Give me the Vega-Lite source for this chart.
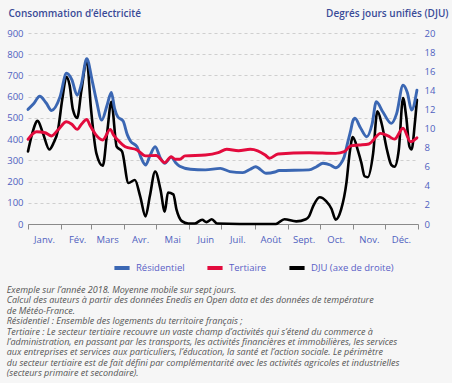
{
  "$schema": "https://vega.github.io/schema/vega-lite/v6.json",
  "width": 390,
  "height": 191,
  "autosize": {"type": "none"},
  "padding": {"left": 28, "top": 33, "right": 34, "bottom": 159},
  "background": "#f6f6f6",
  "config": {
    "view": {"stroke": null},
    "font": "Open Sans",
    "axis": {"labelFont": "Open Sans", "titleFont": "Open Sans"},
    "title": {"font": "Open Sans"}
  },
  "title": {
    "text": [
      "Exemple sur l’année 2018. Moyenne mobile sur sept jours.",
      "Calcul des auteurs à partir des données Enedis en Open data et des données de température",
      "de Météo-France.",
      "Résidentiel : Ensemble des logements du territoire français ;",
      "Tertiaire : Le secteur tertiaire recouvre un vaste champ d’activités qui s’étend du commerce à",
      "l’administration, en passant par les transports, les activités financières et immobilières, les services",
      "aux entreprises et services aux particuliers, l’éducation, la santé et l’action sociale. Le périmètre",
      "du secteur tertiaire est de fait défini par complémentarité avec les activités agricoles et industrielles",
      "(secteurs primaire et secondaire)."
    ],
    "orient": "bottom",
    "anchor": "start",
    "frame": "bounds",
    "fontSize": 9,
    "fontStyle": "italic",
    "fontWeight": "normal",
    "color": "#555555",
    "lineHeight": 10.4,
    "offset": 10
  },
  "data": {
    "values": [
      {"date": "2018-01-01T00:00", "serie": "Résidentiel", "valeur": 540},
      {"date": "2018-01-06T00:00", "serie": "Résidentiel", "valeur": 565},
      {"date": "2018-01-12T00:00", "serie": "Résidentiel", "valeur": 602},
      {"date": "2018-01-18T00:00", "serie": "Résidentiel", "valeur": 570},
      {"date": "2018-01-23T00:00", "serie": "Résidentiel", "valeur": 535},
      {"date": "2018-01-31T00:00", "serie": "Résidentiel", "valeur": 600},
      {"date": "2018-02-06T00:00", "serie": "Résidentiel", "valeur": 710},
      {"date": "2018-02-11T00:00", "serie": "Résidentiel", "valeur": 680},
      {"date": "2018-02-16T00:00", "serie": "Résidentiel", "valeur": 607},
      {"date": "2018-02-20T00:00", "serie": "Résidentiel", "valeur": 660},
      {"date": "2018-02-25T00:00", "serie": "Résidentiel", "valeur": 779},
      {"date": "2018-03-02T00:00", "serie": "Résidentiel", "valeur": 677},
      {"date": "2018-03-06T00:00", "serie": "Résidentiel", "valeur": 583},
      {"date": "2018-03-11T00:00", "serie": "Résidentiel", "valeur": 490},
      {"date": "2018-03-16T00:00", "serie": "Résidentiel", "valeur": 560},
      {"date": "2018-03-20T00:00", "serie": "Résidentiel", "valeur": 620},
      {"date": "2018-03-23T00:00", "serie": "Résidentiel", "valeur": 545},
      {"date": "2018-03-26T00:00", "serie": "Résidentiel", "valeur": 505},
      {"date": "2018-03-31T00:00", "serie": "Résidentiel", "valeur": 485},
      {"date": "2018-04-04T00:00", "serie": "Résidentiel", "valeur": 420},
      {"date": "2018-04-07T00:00", "serie": "Résidentiel", "valeur": 390},
      {"date": "2018-04-13T00:00", "serie": "Résidentiel", "valeur": 364},
      {"date": "2018-04-17T00:00", "serie": "Résidentiel", "valeur": 310},
      {"date": "2018-04-21T00:00", "serie": "Résidentiel", "valeur": 278},
      {"date": "2018-04-25T00:00", "serie": "Résidentiel", "valeur": 320},
      {"date": "2018-04-30T00:00", "serie": "Résidentiel", "valeur": 364},
      {"date": "2018-05-05T00:00", "serie": "Résidentiel", "valeur": 310},
      {"date": "2018-05-09T00:00", "serie": "Résidentiel", "valeur": 286},
      {"date": "2018-05-15T00:00", "serie": "Résidentiel", "valeur": 315},
      {"date": "2018-05-19T00:00", "serie": "Résidentiel", "valeur": 290},
      {"date": "2018-05-23T00:00", "serie": "Résidentiel", "valeur": 272},
      {"date": "2018-06-02T00:00", "serie": "Résidentiel", "valeur": 258},
      {"date": "2018-06-16T00:00", "serie": "Résidentiel", "valeur": 255},
      {"date": "2018-06-30T00:00", "serie": "Résidentiel", "valeur": 262},
      {"date": "2018-07-09T00:00", "serie": "Résidentiel", "valeur": 247},
      {"date": "2018-07-21T00:00", "serie": "Résidentiel", "valeur": 242},
      {"date": "2018-07-28T00:00", "serie": "Résidentiel", "valeur": 258},
      {"date": "2018-08-02T00:00", "serie": "Résidentiel", "valeur": 270},
      {"date": "2018-08-12T00:00", "serie": "Résidentiel", "valeur": 239},
      {"date": "2018-08-20T00:00", "serie": "Résidentiel", "valeur": 245},
      {"date": "2018-08-24T00:00", "serie": "Résidentiel", "valeur": 252},
      {"date": "2018-09-21T00:00", "serie": "Résidentiel", "valeur": 255},
      {"date": "2018-09-28T00:00", "serie": "Résidentiel", "valeur": 270},
      {"date": "2018-10-04T00:00", "serie": "Résidentiel", "valeur": 286},
      {"date": "2018-10-11T00:00", "serie": "Résidentiel", "valeur": 278},
      {"date": "2018-10-16T00:00", "serie": "Résidentiel", "valeur": 265},
      {"date": "2018-10-20T00:00", "serie": "Résidentiel", "valeur": 280},
      {"date": "2018-10-24T00:00", "serie": "Résidentiel", "valeur": 317},
      {"date": "2018-10-27T00:00", "serie": "Résidentiel", "valeur": 380},
      {"date": "2018-10-30T00:00", "serie": "Résidentiel", "valeur": 440},
      {"date": "2018-11-01T00:00", "serie": "Résidentiel", "valeur": 485},
      {"date": "2018-11-03T00:00", "serie": "Résidentiel", "valeur": 498},
      {"date": "2018-11-08T00:00", "serie": "Résidentiel", "valeur": 455},
      {"date": "2018-11-14T00:00", "serie": "Résidentiel", "valeur": 411},
      {"date": "2018-11-19T00:00", "serie": "Résidentiel", "valeur": 470},
      {"date": "2018-11-23T00:00", "serie": "Résidentiel", "valeur": 576},
      {"date": "2018-11-29T00:00", "serie": "Résidentiel", "valeur": 529},
      {"date": "2018-12-07T00:00", "serie": "Résidentiel", "valeur": 474},
      {"date": "2018-12-12T00:00", "serie": "Résidentiel", "valeur": 520},
      {"date": "2018-12-18T00:00", "serie": "Résidentiel", "valeur": 654},
      {"date": "2018-12-22T00:00", "serie": "Résidentiel", "valeur": 620},
      {"date": "2018-12-26T00:00", "serie": "Résidentiel", "valeur": 537},
      {"date": "2018-12-31T00:00", "serie": "Résidentiel", "valeur": 630},

      {"date": "2018-01-01T00:00", "serie": "Tertiaire", "valeur": 399},
      {"date": "2018-01-09T00:00", "serie": "Tertiaire", "valeur": 435},
      {"date": "2018-01-17T00:00", "serie": "Tertiaire", "valeur": 430},
      {"date": "2018-01-23T00:00", "serie": "Tertiaire", "valeur": 415},
      {"date": "2018-01-29T00:00", "serie": "Tertiaire", "valeur": 443},
      {"date": "2018-02-06T00:00", "serie": "Tertiaire", "valeur": 482},
      {"date": "2018-02-11T00:00", "serie": "Tertiaire", "valeur": 470},
      {"date": "2018-02-16T00:00", "serie": "Tertiaire", "valeur": 446},
      {"date": "2018-02-20T00:00", "serie": "Tertiaire", "valeur": 470},
      {"date": "2018-02-25T00:00", "serie": "Tertiaire", "valeur": 493},
      {"date": "2018-02-28T00:00", "serie": "Tertiaire", "valeur": 465},
      {"date": "2018-03-05T00:00", "serie": "Tertiaire", "valeur": 424},
      {"date": "2018-03-12T00:00", "serie": "Tertiaire", "valeur": 396},
      {"date": "2018-03-19T00:00", "serie": "Tertiaire", "valeur": 446},
      {"date": "2018-03-22T00:00", "serie": "Tertiaire", "valeur": 420},
      {"date": "2018-03-26T00:00", "serie": "Tertiaire", "valeur": 396},
      {"date": "2018-04-02T00:00", "serie": "Tertiaire", "valeur": 364},
      {"date": "2018-04-13T00:00", "serie": "Tertiaire", "valeur": 349},
      {"date": "2018-04-21T00:00", "serie": "Tertiaire", "valeur": 321},
      {"date": "2018-05-01T00:00", "serie": "Tertiaire", "valeur": 323},
      {"date": "2018-05-09T00:00", "serie": "Tertiaire", "valeur": 289},
      {"date": "2018-05-15T00:00", "serie": "Tertiaire", "valeur": 317},
      {"date": "2018-05-19T00:00", "serie": "Tertiaire", "valeur": 305},
      {"date": "2018-05-23T00:00", "serie": "Tertiaire", "valeur": 305},
      {"date": "2018-05-28T00:00", "serie": "Tertiaire", "valeur": 321},
      {"date": "2018-06-16T00:00", "serie": "Tertiaire", "valeur": 325},
      {"date": "2018-06-28T00:00", "serie": "Tertiaire", "valeur": 336},
      {"date": "2018-07-06T00:00", "serie": "Tertiaire", "valeur": 352},
      {"date": "2018-07-17T00:00", "serie": "Tertiaire", "valeur": 345},
      {"date": "2018-07-28T00:00", "serie": "Tertiaire", "valeur": 352},
      {"date": "2018-08-04T00:00", "serie": "Tertiaire", "valeur": 345},
      {"date": "2018-08-11T00:00", "serie": "Tertiaire", "valeur": 325},
      {"date": "2018-08-15T00:00", "serie": "Tertiaire", "valeur": 310},
      {"date": "2018-08-23T00:00", "serie": "Tertiaire", "valeur": 330},
      {"date": "2018-09-21T00:00", "serie": "Tertiaire", "valeur": 336},
      {"date": "2018-10-16T00:00", "serie": "Tertiaire", "valeur": 333},
      {"date": "2018-10-24T00:00", "serie": "Tertiaire", "valeur": 341},
      {"date": "2018-10-30T00:00", "serie": "Tertiaire", "valeur": 368},
      {"date": "2018-11-07T00:00", "serie": "Tertiaire", "valeur": 372},
      {"date": "2018-11-16T00:00", "serie": "Tertiaire", "valeur": 377},
      {"date": "2018-11-27T00:00", "serie": "Tertiaire", "valeur": 427},
      {"date": "2018-12-04T00:00", "serie": "Tertiaire", "valeur": 415},
      {"date": "2018-12-10T00:00", "serie": "Tertiaire", "valeur": 400},
      {"date": "2018-12-18T00:00", "serie": "Tertiaire", "valeur": 451},
      {"date": "2018-12-25T00:00", "serie": "Tertiaire", "valeur": 388},
      {"date": "2018-12-31T00:00", "serie": "Tertiaire", "valeur": 406},

      {"date": "2018-01-01T00:00", "serie": "DJU (axe de droite)", "valeur": 7.6},
      {"date": "2018-01-05T00:00", "serie": "DJU (axe de droite)", "valeur": 9.5},
      {"date": "2018-01-10T00:00", "serie": "DJU (axe de droite)", "valeur": 10.8},
      {"date": "2018-01-15T00:00", "serie": "DJU (axe de droite)", "valeur": 9.5},
      {"date": "2018-01-21T00:00", "serie": "DJU (axe de droite)", "valeur": 7.8},
      {"date": "2018-01-25T00:00", "serie": "DJU (axe de droite)", "valeur": 8.5},
      {"date": "2018-01-29T00:00", "serie": "DJU (axe de droite)", "valeur": 9.8},
      {"date": "2018-02-02T00:00", "serie": "DJU (axe de droite)", "valeur": 13},
      {"date": "2018-02-06T00:00", "serie": "DJU (axe de droite)", "valeur": 15.4},
      {"date": "2018-02-09T00:00", "serie": "DJU (axe de droite)", "valeur": 14.5},
      {"date": "2018-02-12T00:00", "serie": "DJU (axe de droite)", "valeur": 12},
      {"date": "2018-02-16T00:00", "serie": "DJU (axe de droite)", "valeur": 11.1},
      {"date": "2018-02-20T00:00", "serie": "DJU (axe de droite)", "valeur": 14},
      {"date": "2018-02-25T00:00", "serie": "DJU (axe de droite)", "valeur": 17.1},
      {"date": "2018-03-01T00:00", "serie": "DJU (axe de droite)", "valeur": 12},
      {"date": "2018-03-06T00:00", "serie": "DJU (axe de droite)", "valeur": 7.4},
      {"date": "2018-03-12T00:00", "serie": "DJU (axe de droite)", "valeur": 6.1},
      {"date": "2018-03-16T00:00", "serie": "DJU (axe de droite)", "valeur": 9.5},
      {"date": "2018-03-20T00:00", "serie": "DJU (axe de droite)", "valeur": 12.8},
      {"date": "2018-03-25T00:00", "serie": "DJU (axe de droite)", "valeur": 8.1},
      {"date": "2018-03-30T00:00", "serie": "DJU (axe de droite)", "valeur": 7.6},
      {"date": "2018-04-05T00:00", "serie": "DJU (axe de droite)", "valeur": 4.3},
      {"date": "2018-04-11T00:00", "serie": "DJU (axe de droite)", "valeur": 4.6},
      {"date": "2018-04-16T00:00", "serie": "DJU (axe de droite)", "valeur": 2.9},
      {"date": "2018-04-21T00:00", "serie": "DJU (axe de droite)", "valeur": 0.8},
      {"date": "2018-04-25T00:00", "serie": "DJU (axe de droite)", "valeur": 2.9},
      {"date": "2018-04-30T00:00", "serie": "DJU (axe de droite)", "valeur": 5.5},
      {"date": "2018-05-05T00:00", "serie": "DJU (axe de droite)", "valeur": 3.6},
      {"date": "2018-05-09T00:00", "serie": "DJU (axe de droite)", "valeur": 1.3},
      {"date": "2018-05-12T00:00", "serie": "DJU (axe de droite)", "valeur": 3.3},
      {"date": "2018-05-17T00:00", "serie": "DJU (axe de droite)", "valeur": 3.1},
      {"date": "2018-05-20T00:00", "serie": "DJU (axe de droite)", "valeur": 1.5},
      {"date": "2018-05-25T00:00", "serie": "DJU (axe de droite)", "valeur": 0.3},
      {"date": "2018-05-31T00:00", "serie": "DJU (axe de droite)", "valeur": 0.05},
      {"date": "2018-06-06T00:00", "serie": "DJU (axe de droite)", "valeur": 0.05},
      {"date": "2018-06-13T00:00", "serie": "DJU (axe de droite)", "valeur": 0.45},
      {"date": "2018-06-17T00:00", "serie": "DJU (axe de droite)", "valeur": 0.2},
      {"date": "2018-06-22T00:00", "serie": "DJU (axe de droite)", "valeur": 0.5},
      {"date": "2018-06-27T00:00", "serie": "DJU (axe de droite)", "valeur": 0.05},
      {"date": "2018-07-18T00:00", "serie": "DJU (axe de droite)", "valeur": 0},
      {"date": "2018-08-21T00:00", "serie": "DJU (axe de droite)", "valeur": 0},
      {"date": "2018-08-29T00:00", "serie": "DJU (axe de droite)", "valeur": 0.5},
      {"date": "2018-09-09T00:00", "serie": "DJU (axe de droite)", "valeur": 0.27},
      {"date": "2018-09-18T00:00", "serie": "DJU (axe de droite)", "valeur": 0.5},
      {"date": "2018-09-21T00:00", "serie": "DJU (axe de droite)", "valeur": 0.8},
      {"date": "2018-09-25T00:00", "serie": "DJU (axe de droite)", "valeur": 1.9},
      {"date": "2018-10-01T00:00", "serie": "DJU (axe de droite)", "valeur": 2.8},
      {"date": "2018-10-07T00:00", "serie": "DJU (axe de droite)", "valeur": 2.4},
      {"date": "2018-10-12T00:00", "serie": "DJU (axe de droite)", "valeur": 1.6},
      {"date": "2018-10-16T00:00", "serie": "DJU (axe de droite)", "valeur": 0.45},
      {"date": "2018-10-21T00:00", "serie": "DJU (axe de droite)", "valeur": 1.5},
      {"date": "2018-10-26T00:00", "serie": "DJU (axe de droite)", "valeur": 4.3},
      {"date": "2018-10-29T00:00", "serie": "DJU (axe de droite)", "valeur": 7.4},
      {"date": "2018-11-01T00:00", "serie": "DJU (axe de droite)", "valeur": 9.1},
      {"date": "2018-11-06T00:00", "serie": "DJU (axe de droite)", "valeur": 7.6},
      {"date": "2018-11-09T00:00", "serie": "DJU (axe de droite)", "valeur": 6.4},
      {"date": "2018-11-12T00:00", "serie": "DJU (axe de droite)", "valeur": 5.0},
      {"date": "2018-11-15T00:00", "serie": "DJU (axe de droite)", "valeur": 4.9},
      {"date": "2018-11-20T00:00", "serie": "DJU (axe de droite)", "valeur": 7.4},
      {"date": "2018-11-24T00:00", "serie": "DJU (axe de droite)", "valeur": 11.8},
      {"date": "2018-11-28T00:00", "serie": "DJU (axe de droite)", "valeur": 10.5},
      {"date": "2018-12-03T00:00", "serie": "DJU (axe de droite)", "valeur": 7.75},
      {"date": "2018-12-07T00:00", "serie": "DJU (axe de droite)", "valeur": 6.2},
      {"date": "2018-12-10T00:00", "serie": "DJU (axe de droite)", "valeur": 6.0},
      {"date": "2018-12-14T00:00", "serie": "DJU (axe de droite)", "valeur": 7.75},
      {"date": "2018-12-18T00:00", "serie": "DJU (axe de droite)", "valeur": 13.2},
      {"date": "2018-12-21T00:00", "serie": "DJU (axe de droite)", "valeur": 11.2},
      {"date": "2018-12-24T00:00", "serie": "DJU (axe de droite)", "valeur": 8.1},
      {"date": "2018-12-26T00:00", "serie": "DJU (axe de droite)", "valeur": 7.8},
      {"date": "2018-12-29T00:00", "serie": "DJU (axe de droite)", "valeur": 10.5},
      {"date": "2018-12-31T00:00", "serie": "DJU (axe de droite)", "valeur": 13.0}
    ]
  },
  "encoding": {
    "x": {
      "field": "date",
      "type": "temporal",
      "scale": {"domain": [{"year": 2018, "month": 1, "date": 1}, {"year": 2019, "month": 1, "date": 1}]},
      "axis": {
        "title": null,
        "values": [
          {"year": 2018, "month": 1, "date": 1}, {"year": 2018, "month": 2, "date": 1},
          {"year": 2018, "month": 3, "date": 1}, {"year": 2018, "month": 4, "date": 1},
          {"year": 2018, "month": 5, "date": 1}, {"year": 2018, "month": 6, "date": 1},
          {"year": 2018, "month": 7, "date": 1}, {"year": 2018, "month": 8, "date": 1},
          {"year": 2018, "month": 9, "date": 1}, {"year": 2018, "month": 10, "date": 1},
          {"year": 2018, "month": 11, "date": 1}, {"year": 2018, "month": 12, "date": 1},
          {"year": 2019, "month": 1, "date": 1}
        ],
        "labelExpr": "year(datum.value) > 2018 ? '' : ['Janv.','Fév.','Mars','Avr.','Mai','Juin','Juil.','Août','Sept.','Oct.','Nov.','Déc.'][month(datum.value)]",
        "labelOffset": 16,
        "labelAlign": "center",
        "labelFontSize": 9.5,
        "labelColor": "#4f5fc0",
        "labelPadding": 5,
        "labelFlush": false,
        "labelOverlap": false,
        "tickSize": 5,
        "tickColor": "#8a8a8a",
        "domainColor": "#8a8a8a",
        "grid": false
      }
    },
    "color": {
      "field": "serie",
      "type": "nominal",
      "scale": {
        "domain": ["Résidentiel", "Tertiaire", "DJU (axe de droite)"],
        "range": ["#3b67b3", "#e30b3d", "#000000"]
      },
      "legend": {
        "title": null,
        "orient": "none",
        "legendX": 84,
        "legendY": 225,
        "direction": "horizontal",
        "symbolType": "stroke",
        "symbolStrokeWidth": 4,
        "symbolSize": 230,
        "labelFontSize": 9.5,
        "labelColor": "#5a5fc6",
        "labelFont": "Open Sans",
        "columnPadding": 14
      }
    }
  },
  "layer": [
    {
      "transform": [{"filter": "datum.serie == 'DJU (axe de droite)'"}],
      "mark": {"type": "line", "interpolate": "monotone", "strokeWidth": 2.6, "strokeCap": "round"},
      "encoding": {
        "y": {
          "field": "valeur",
          "type": "quantitative",
          "scale": {"domain": [0, 20]},
          "axis": {
            "orient": "right",
            "values": [0, 2, 4, 6, 8, 10, 12, 14, 16, 18, 20],
            "title": "Degrés jours unifiés (DJU)",
            "titleAngle": 0,
            "titleAlign": "right",
            "titleBaseline": "alphabetic",
            "titleX": 30,
            "titleY": -17,
            "titleFontSize": 10,
            "titleFontWeight": 600,
            "titleColor": "#3a4b98",
            "labelFontSize": 9.5,
            "labelColor": "#4f5fc0",
            "labelPadding": 6,
            "ticks": false,
            "domain": false,
            "grid": false
          }
        }
      }
    },
    {
      "transform": [{"filter": "datum.serie != 'DJU (axe de droite)'"}],
      "mark": {"type": "line", "interpolate": "monotone", "strokeWidth": 2.9, "strokeCap": "round"},
      "encoding": {
        "y": {
          "field": "valeur",
          "type": "quantitative",
          "scale": {"domain": [0, 900]},
          "axis": {
            "orient": "left",
            "values": [0, 100, 200, 300, 400, 500, 600, 700, 800, 900],
            "title": "Consommation d’électricité",
            "titleAngle": 0,
            "titleAlign": "left",
            "titleBaseline": "alphabetic",
            "titleX": -20,
            "titleY": -17,
            "titleFontSize": 10,
            "titleFontWeight": 600,
            "titleColor": "#3a4b98",
            "labelFontSize": 9.5,
            "labelColor": "#4f5fc0",
            "labelPadding": 5,
            "ticks": false,
            "domain": false,
            "grid": true,
            "gridColor": "#cfcfcf",
            "gridDash": [3, 3],
            "gridWidth": 1
          }
        }
      }
    }
  ],
  "resolve": {"scale": {"y": "independent"}}
}
